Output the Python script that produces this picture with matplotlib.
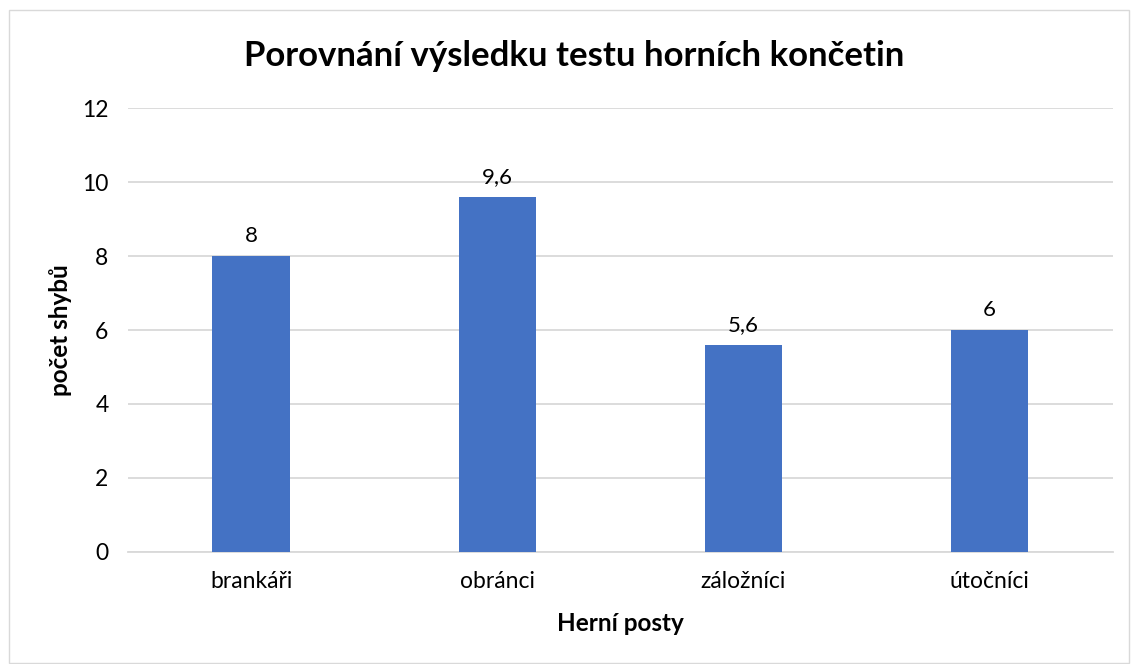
import matplotlib.pyplot as plt
from matplotlib.patches import Rectangle

categories = ['brankáři', 'obránci', 'záložníci', 'útočníci']
values = [8, 9.6, 5.6, 6]
value_labels = ['8', '9,6', '5,6', '6']

plt.rcParams['font.family'] = ['Lato', 'DejaVu Sans']

fig = plt.figure(figsize=(11.31, 6.64), dpi=100)
ax = fig.add_axes([0.1132, 0.1687, 0.8706, 0.6686])

x = range(len(categories))
bars = ax.bar(x, values, width=0.315, color='#4472C4', zorder=3)
for b, lab in zip(bars, value_labels):
    ax.annotate(lab, (b.get_x() + b.get_width() / 2, b.get_height()),
                xytext=(0, 7), textcoords='offset points',
                ha='center', va='bottom', fontsize=16, color='#000000')

ax.set_xlim(-0.5, 3.5)
ax.set_ylim(0, 12)
ax.set_yticks(range(0, 13, 2))
ax.set_xticks(list(x))
ax.set_xticklabels(categories, fontsize=16.5)
ax.tick_params(axis='y', labelsize=16.5, length=0, pad=14)
ax.tick_params(axis='x', length=0, pad=14)
ax.grid(axis='y', color='#D9D9D9', linewidth=1.3, zorder=0)
for s in ['top', 'right', 'left']:
    ax.spines[s].set_visible(False)
ax.spines['bottom'].set_color('#D9D9D9')
ax.spines['bottom'].set_linewidth(1.3)

ax.set_xlabel('Herní posty', fontsize=17.5, fontweight='bold', labelpad=14)
ax.set_ylabel('počet shybů', fontsize=17.5, fontweight='bold', labelpad=7)
fig.text(0.508, 0.915, 'Porovnání výsledku testu horních končetin',
         ha='center', va='center', fontsize=25, fontweight='bold')

fig.patches.append(Rectangle((9 / 1131, 1 / 664), 1120 / 1131, 653 / 664,
                             transform=fig.transFigure, fill=False,
                             edgecolor='#D9D9D9', linewidth=1))

fig.savefig('out.png', dpi=100)
